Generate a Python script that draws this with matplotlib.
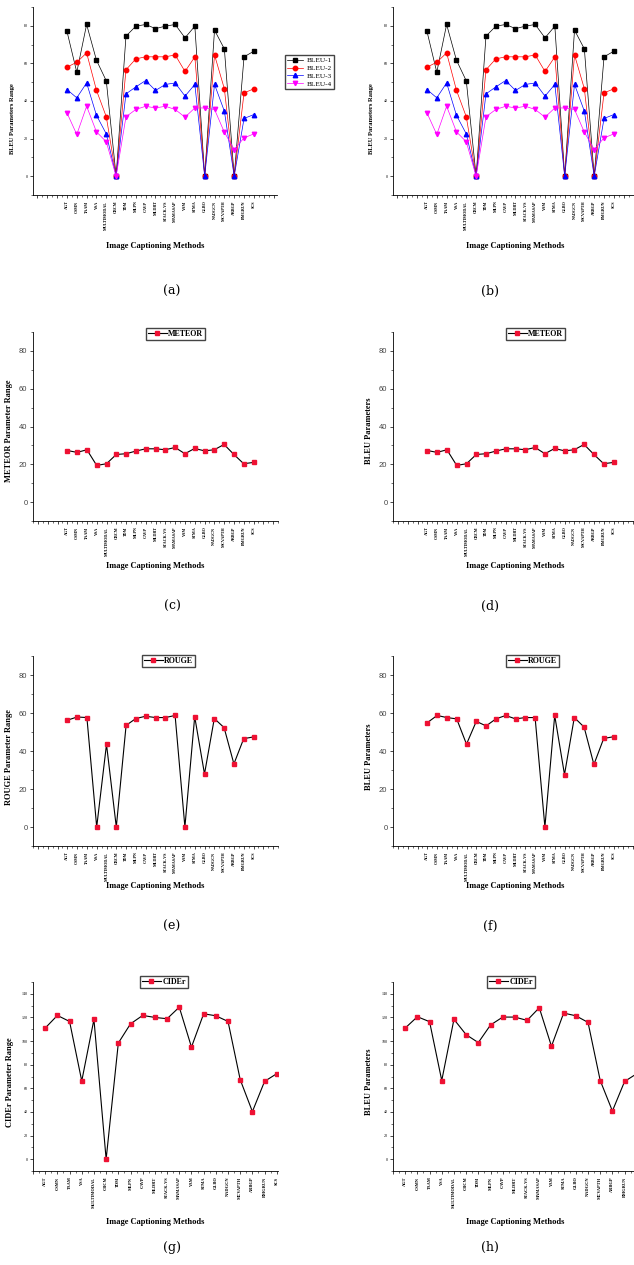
import matplotlib
matplotlib.use("Agg")
import matplotlib.pyplot as plt
from matplotlib.ticker import MultipleLocator

methods = ["AGT", "CSMN", "TAAM", "VSA", "MULTIMODAL", "CBCM", "TDM", "MLPN", "CAVP", "MLDRT",
           "STACK-VS", "MAMASAP", "VAM", "STMA", "GLBO", "NADGCN", "MCVAPTH", "ARBGP", "BMGRUN", "SCS"]

bleu1 = [77.1, 55.3, 80.7, 61.7, 50.7, 0, 74.5, 79.8, 80.7, 78.5,
         79.8, 80.7, 73.6, 79.8, 0, 77.7, 67.7, 0, 63.5, 66.5]
bleu2 = [58.0, 60.6, 65.6, 45.7, 31.6, 0, 56.6, 62.4, 63.5, 63.5,
         63.5, 64.5, 55.7, 63.5, 0, 64.5, 46.5, 0, 44.3, 46.5]
bleu3 = [46.1, 41.7, 49.6, 32.4, 22.5, 0, 43.8, 47.5, 50.9, 45.6,
         48.8, 49.6, 42.6, 48.8, 0, 48.8, 34.6, 0, 30.7, 32.8]
bleu4 = [33.7, 22.2, 37.2, 23.6, 18.3, 0, 31.6, 35.5, 37.2, 36.3,
         37.2, 35.5, 31.4, 36.3, 36.3, 35.5, 23.4, 14.2, 20.4, 22.5]

meteor = [27.3, 26.3, 27.7, 19.4, 20.3, 25.2, 25.6, 27.0, 28.2, 28.2,
          27.7, 28.9, 25.6, 28.4, 27.1, 27.7, 30.5, 25.2, 20.3, 21.0]

rouge_e = [56.2, 57.9, 57.6, 0, 43.5, 0, 53.5, 57.1, 58.3, 57.6,
           57.6, 58.7, 0, 58.1, 27.9, 57.1, 52.3, 33.2, 46.5, 47.4]
rouge_f = [54.9, 58.7, 57.6, 56.9, 43.6, 55.6, 53.2, 56.9, 58.7, 56.9,
           57.6, 57.6, 0, 58.7, 27.6, 57.6, 52.6, 32.9, 46.6, 47.5]

cider_g = [111.0, 121.7, 116.6, 66.2, 118.3, 0, 98.3, 114.6, 121.7, 120.0,
           118.9, 128.7, 94.9, 123.1, 121.4, 116.6, 67.3, 40.3, 65.9, 72.4]
cider_h = [111.0, 120.6, 116.4, 66.6, 118.4, 105.4, 98.7, 113.6, 120.3, 120.3,
           117.5, 128.2, 95.6, 123.7, 121.4, 115.8, 66.6, 40.8, 65.8, 72.4]

bleu_names = ["BLEU-1", "BLEU-2", "BLEU-3", "BLEU-4"]
bleu_colors = ["black", "#ff0000", "#0000ff", "#ff00ff"]
bleu_markers = ["s", "o", "^", "v"]

SERIF = "Liberation Serif"
W, H = 634, 1265
fig = plt.figure(figsize=(W / 100, H / 100), dpi=100)
x = list(range(1, 21))


def panel(left, top, right, bottom):
    return fig.add_axes([left / W, 1 - bottom / H, (right - left) / W, (bottom - top) / H])


def style(ax, xlim, ylim, tick_font, ytick_font, ytick_family, ytick_color, last=20):
    ax.set_xlim(*xlim)
    ax.set_ylim(*ylim)
    for s in ["top", "right"]:
        ax.spines[s].set_visible(False)
    for s in ["left", "bottom"]:
        ax.spines[s].set_linewidth(0.6)
    major = list(range(int(round(xlim[0])), int(xlim[1]) + 1))
    ax.set_xticks(major)
    ax.set_xticklabels([methods[i - 1] if 1 <= i <= last else "" for i in major],
                       rotation=90, fontsize=tick_font, fontweight="bold", family=SERIF)
    ax.xaxis.set_minor_locator(MultipleLocator(0.5))
    yt = list(range(0, int(ylim[1]), 20))
    ax.set_yticks(yt)
    ax.set_yticklabels([str(v) for v in yt], fontsize=ytick_font, family=ytick_family, color=ytick_color)
    ax.yaxis.set_minor_locator(MultipleLocator(10))
    ax.tick_params(which="major", direction="out", length=2.5, width=0.5, pad=1.5)
    ax.tick_params(which="minor", direction="out", length=1.3, width=0.4)


def labels(xl_y, yl_x, yl_y, ylabel, yl_size, center_x):
    fig.text(center_x / W, 1 - xl_y / H, "Image Captioning Methods", ha="center", va="center",
             fontsize=6, fontweight="bold", family=SERIF)
    fig.text(yl_x / W, 1 - yl_y / H, ylabel, ha="center", va="center", rotation=90,
             fontsize=yl_size, fontweight="bold", family=SERIF)


def caption(cx, cy, text):
    fig.text(cx / W, 1 - cy / H, text, ha="center", va="center", fontsize=9, family="DejaVu Serif")


def single(ax, values, name, lx, ly):
    ax.plot(x, values, color="black", lw=0.8, marker="s", markersize=3.2,
            markerfacecolor="#ee1133", markeredgecolor="#ee1133", label=name)
    fig.legend(handles=ax.get_lines(), loc="upper left", bbox_to_anchor=(lx / W, 1 - ly / H),
               frameon=True, fancybox=False, edgecolor="#444444", framealpha=1,
               prop={"family": SERIF, "size": 5.8, "weight": "bold"},
               handlelength=2.3, handletextpad=0.2, borderpad=0.25, borderaxespad=0)


# (a) and (b): BLEU
for left, ylab_x in [(33, 13), (393, 372)]:
    ax = panel(left, 7, left + 244, 195)
    for vals, name, c, m in zip([bleu1, bleu2, bleu3, bleu4], bleu_names, bleu_colors, bleu_markers):
        ax.plot(x, vals, color=c, lw=0.5, marker=m, markersize=3.2,
                markerfacecolor=c, markeredgecolor=c, label=name)
    style(ax, (-2.45, 22.35), (-10, 90), 3, 3, SERIF, "black")
    labels(246, ylab_x, 119, "BLEU Parameters Range", 4.7, left + 122)
    if left == 33:
        fig.legend(handles=ax.get_lines(), loc="upper left", bbox_to_anchor=(285 / W, 1 - 55 / H),
                   frameon=True, fancybox=False, edgecolor="#444444", framealpha=1,
                   prop={"family": SERIF, "size": 5.2}, handlelength=2.2, handletextpad=0.5,
                   borderpad=0.3, labelspacing=0.25, borderaxespad=0)

# (c) and (d): METEOR
for left, ylab_x, ylab, lx in [(33, 9, "METEOR Parameter Range", 146), (393, 369, "BLEU Parameters", 506)]:
    ax = panel(left, 332, left + 245, 521)
    single(ax, meteor, "METEOR", lx, 328)
    style(ax, (-2.5, 22.5), (-10, 90), 3, 5.5, "Liberation Sans", "#444444")
    labels(566, ylab_x, 431, ylab, 6, left + 122)

# (e) and (f): ROUGE
for left, vals, ylab_x, ylab, lx in [(33, rouge_e, 9, "ROUGE Parameter Range", 142),
                                     (393, rouge_f, 369, "BLEU Parameters", 506)]:
    ax = panel(left, 656, left + 245, 846)
    single(ax, vals, "ROUGE", lx, 655)
    style(ax, (-2.5, 22.5), (-10, 90), 3, 5.5, "Liberation Sans", "#444444")
    labels(886, ylab_x, 757, ylab, 6, left + 122)

# (g) and (h): CIDEr, (h) runs off the right edge like the original
for left, vals, ylab_x, ylab, lx, last in [(33, cider_g, 10, "CIDEr Parameter Range", 140, 20),
                                           (393, cider_h, 369, "BLEU Parameters", 487, 19)]:
    ax = panel(left, 982, left + 245, 1171)
    single(ax, vals, "CIDEr", lx, 976)
    style(ax, (0.02, 20.1), (-10, 150), 3.2, 3, SERIF, "black", last)
    labels(1222, ylab_x, 1082, ylab, 6, left + 122)

for cx, cy, t in [(172, 291, "(a)"), (490, 291, "(b)"), (172, 606, "(c)"), (490, 606, "(d)"),
                  (172, 926, "(e)"), (490, 926, "(f)"), (172, 1247, "(g)"), (490, 1247, "(h)")]:
    caption(cx, cy, t)

fig.savefig("out.png", dpi=100)
